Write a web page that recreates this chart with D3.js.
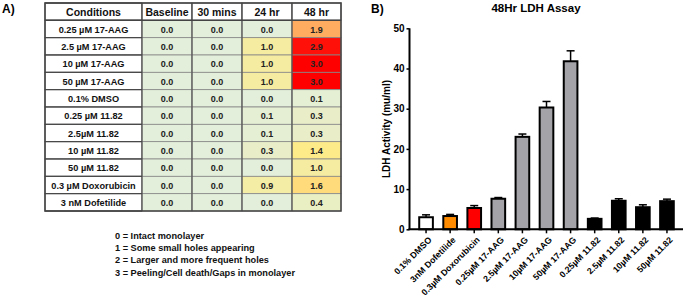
<!DOCTYPE html>
<html><head><meta charset="utf-8">
<script src="https://cdn.jsdelivr.net/npm/d3@7"></script>
<style>body{margin:0;background:#fff}svg{display:block;font-family:"Liberation Sans",Arial,sans-serif;font-weight:bold}</style>
</head><body><svg id="c" width="685" height="299"></svg>
<script>
// ---- Data: panel A (scores) ----
const conditions = ["0.25 µM 17-AAG","2.5 µM 17-AAG","10 µM 17-AAG","50 µM 17-AAG","0.1% DMSO","0.25 µM 11.82","2.5µM 11.82","10 µM 11.82","50 µM 11.82","0.3 µM Doxorubicin","3 nM Dofetilide"];
const timepoints = ["Baseline","30 mins","24 hr","48 hr"];
const baseline = [0,0,0,0,0,0,0,0,0,0,0];
const mins30   = [0,0,0,0,0,0,0,0,0,0,0];
const hr24     = [0,1,1,1,0,0.1,0.1,0.3,0,0.9,0];
const hr48     = [1.9,2.9,3,3,0.1,0.3,0.3,1.4,1,1.6,0.4];
const legendLines = ["0 = Intact monolayer","1 = Some small holes appearing","2 = Larger and more frequent holes","3 = Peeling/Cell death/Gaps in  monolayer"];
// ---- Data: panel B (LDH) ----
const ldhLabels = ["0.1% DMSO","3nM Dofetilide","0.3µM Doxorubicin","0.25µM 17-AAG","2.5µM 17-AAG","10µM 17-AAG","50µM 17-AAG","0.25µM 11.82","2.5µM 11.82","10µM 11.82","50µM 11.82"];
const ldhValues = [3.0,3.3,5.3,7.6,23.0,30.3,41.8,2.6,7.1,5.5,7.0];
const ldhErrors = [0.6,0.4,0.6,0.3,0.7,1.5,2.6,0.2,0.5,0.6,0.5];
const ldhGroups = ["white","orange","red","gray","gray","gray","gray","black","black","black","black"];
const yTicks = [0,10,20,30,40,50];

const svg = d3.select("#c");

// ================= Panel A =================
svg.append("text").attr("x",2).attr("y",13).attr("font-size",12).text("A)");
const cols = ["Conditions"].concat(timepoints);
const colX = d3.scaleOrdinal().domain(cols).range([45,142,192,242,292]);
const colW = d3.scaleOrdinal().domain(cols).range([97,50,50,50,49]);
const rowY = d3.scaleBand().domain(d3.range(12)).range([3,211]);
const color = d3.scaleLinear().domain([0,1.5,3]).range(["#e3efda","#ffeb84","#ff0000"]);
const series = [baseline, mins30, hr24, hr48];
const gA = svg.append("g");
// header
cols.forEach(c=>{
  gA.append("rect").attr("x",colX(c)).attr("y",rowY(0)).attr("width",colW(c)).attr("height",rowY.bandwidth())
    .attr("fill","#fff").attr("stroke","#555").attr("stroke-width",1);
  gA.append("text").attr("x",colX(c)+colW(c)/2).attr("y",rowY(0)+rowY.bandwidth()/2+4)
    .attr("text-anchor","middle").attr("font-size",10.5).attr("fill","#111").text(c);
});
conditions.forEach((cond,i)=>{
  const y = rowY(i+1), h = rowY.bandwidth();
  gA.append("rect").attr("x",colX("Conditions")).attr("y",y).attr("width",colW("Conditions")).attr("height",h)
    .attr("fill","#fff").attr("stroke","#555").attr("stroke-width",1);
  gA.append("text").attr("x",colX("Conditions")+colW("Conditions")/2).attr("y",y+h/2+3.5)
    .attr("text-anchor","middle").attr("font-size",9.2).attr("fill","#111").text(cond);
  timepoints.forEach((t,j)=>{
    const v = series[j][i];
    gA.append("rect").attr("x",colX(t)).attr("y",y).attr("width",colW(t)).attr("height",h)
      .attr("fill",color(v)).attr("stroke","#888").attr("stroke-width",0.8);
    gA.append("text").attr("x",colX(t)+colW(t)/2).attr("y",y+h/2+3.5)
      .attr("text-anchor","middle").attr("font-size",9).attr("fill","#222").text(v.toFixed(1));
  });
});
// column separators and outer border
["Baseline","30 mins","24 hr","48 hr"].forEach(c=>{
  gA.append("line").attr("x1",colX(c)).attr("x2",colX(c)).attr("y1",3).attr("y2",211).attr("stroke","#444").attr("stroke-width",1);
});
d3.range(13).forEach(r=>{
  const y = r<12 ? rowY(r) : 211;
  gA.append("line").attr("x1",45).attr("x2",142).attr("y1",y).attr("y2",y).attr("stroke","#444").attr("stroke-width",1);
});
gA.append("line").attr("x1",45).attr("x2",341).attr("y1",rowY(1)).attr("y2",rowY(1)).attr("stroke","#444").attr("stroke-width",1.5);
gA.append("rect").attr("x",45).attr("y",3).attr("width",296).attr("height",208).attr("fill","none").attr("stroke","#444").attr("stroke-width",1.5);

// legend
legendLines.forEach((l,i)=>{
  svg.append("text").attr("x",115).attr("y",[239,251,263,276][i]).attr("font-size",9.2).attr("fill","#111").text(l);
});

// ================= Panel B =================
svg.append("text").attr("x",371).attr("y",13).attr("font-size",12).text("B)");
svg.append("text").attr("x",536).attr("y",12).attr("text-anchor","middle").attr("font-size",11.5).text("48Hr LDH Assay");
const y = d3.scaleLinear().domain([0,50]).range([229.3,28.3]);
const x = d3.scaleBand().domain(ldhLabels).range([414,679]).paddingInner(0.35).paddingOuter(0.175);
const fills = {white:"#ffffff",orange:"#ff8c00",red:"#ff0000",gray:"#a3a3a8",black:"#000000"};

const bars = svg.append("g");
ldhLabels.forEach((lab,i)=>{
  const cx = x(lab)+x.bandwidth()/2;
  // error bar (upper only)
  bars.append("line").attr("x1",cx).attr("x2",cx).attr("y1",y(ldhValues[i])).attr("y2",y(ldhValues[i]+ldhErrors[i])).attr("stroke","#000").attr("stroke-width",1.5);
  bars.append("line").attr("x1",cx-4).attr("x2",cx+4).attr("y1",y(ldhValues[i]+ldhErrors[i])).attr("y2",y(ldhValues[i]+ldhErrors[i])).attr("stroke","#000").attr("stroke-width",1.5);
  bars.append("rect").attr("x",x(lab)+1).attr("y",y(ldhValues[i])).attr("width",x.bandwidth()-2).attr("height",y(0)-y(ldhValues[i]))
    .attr("fill",fills[ldhGroups[i]]).attr("stroke","#000").attr("stroke-width",2);
});

// y axis
const yAxis = svg.append("g").attr("transform","translate(409.5,0)")
  .call(d3.axisLeft(y).tickValues(yTicks).tickSize(3).tickPadding(2));
yAxis.select(".domain").attr("stroke-width",2).attr("d","M0,28.3V229.3");
yAxis.selectAll(".tick line").attr("stroke-width",1.5);
yAxis.selectAll("text").attr("font-size",10).attr("font-weight","bold").attr("font-family","Liberation Sans, Arial, sans-serif").attr("fill","#000");

// x axis
const xAxis = svg.append("g").attr("transform","translate(0,229.3)")
  .call(d3.axisBottom(x).tickSize(4).tickSizeOuter(0));
xAxis.select(".domain").attr("stroke-width",2).attr("d","M408.5,0H683");
xAxis.selectAll(".tick line").attr("stroke-width",1.5);
xAxis.selectAll("text").attr("font-size",8.8).attr("font-weight","bold").attr("font-family","Liberation Sans, Arial, sans-serif").attr("fill","#000")
  .attr("text-anchor","end").attr("x",0).attr("y",0).attr("dy","0.35em").attr("dx",0)
  .attr("transform","translate(4,9) rotate(-45)");

svg.append("text").attr("transform","translate(390,129) rotate(-90)").attr("text-anchor","middle").attr("font-size",10).text("LDH Activity (mu/ml)");
</script></body></html>
